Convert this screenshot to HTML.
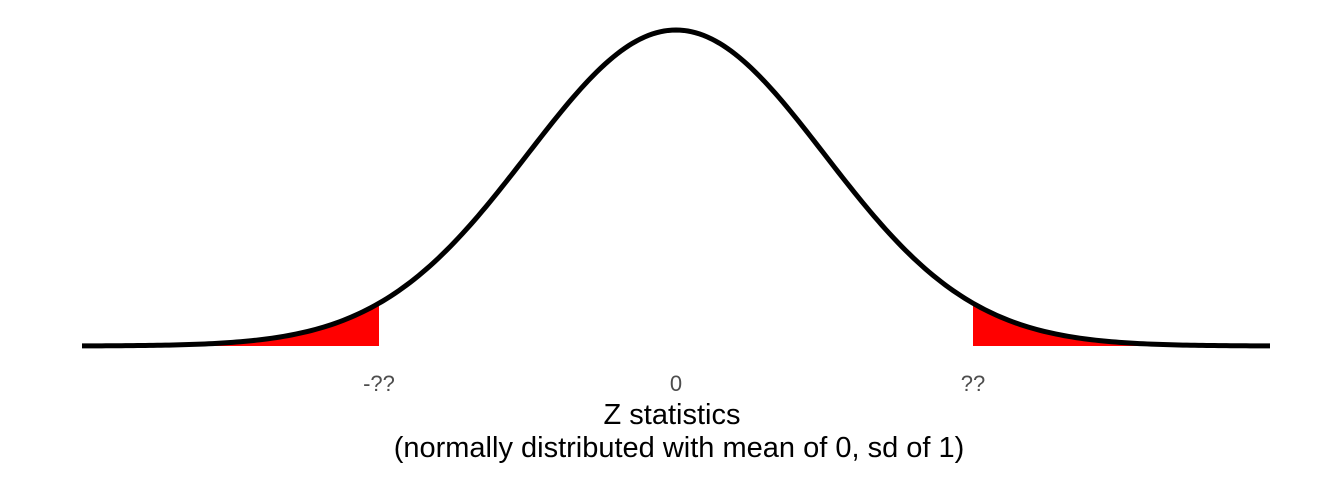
<!DOCTYPE html>
<html><head><meta charset="utf-8"><style>
body{margin:0;background:#fff;}
svg text{font-family:"Liberation Sans",Arial,sans-serif;}
</style></head><body>
<svg id="chart" width="1344" height="480" viewBox="0 0 1344 480">
<g id="marks"></g>
<g id="ticks"></g>
<text x="672" y="424" font-size="29" text-anchor="middle" fill="#000">Z statistics</text>
<text x="679" y="457" font-size="29" text-anchor="middle" fill="#000">(normally distributed with mean of 0, sd of 1)</text>
</svg>
<script>
const xDomain = [-4, 4];
const meanSd = [0, 1];
const criticalValues = [-2, 2];
const tickValues = [-2, 0, 2];
const tickLabels = ["-??", "0", "??"];

const X0 = 82, X1 = 1270, BASE = 346, PEAK = 30;
const sx = v => X0 + (v - xDomain[0]) / (xDomain[1] - xDomain[0]) * (X1 - X0);
const dn = v => Math.exp(-0.5 * ((v - meanSd[0]) / meanSd[1]) ** 2) / (meanSd[1] * Math.sqrt(2 * Math.PI));
const dmax = dn(meanSd[0]);
const sy = d => BASE - d / dmax * (BASE - PEAK);
const NS = "http://www.w3.org/2000/svg";
const marks = document.getElementById('marks');

function pathFor(a, b, closed) {
  let s = "";
  const n = 300;
  for (let i = 0; i <= n; i++) {
    const v = a + (b - a) * i / n;
    s += (i ? "L" : "M") + sx(v).toFixed(2) + "," + sy(dn(v)).toFixed(2);
  }
  if (closed) s += "L" + sx(b) + "," + BASE + "L" + sx(a) + "," + BASE + "Z";
  return s;
}
const lt = document.createElementNS(NS, 'path');
lt.setAttribute('d', pathFor(xDomain[0], criticalValues[0], true));
lt.setAttribute('fill', '#ff0000');


marks.appendChild(lt);
const rt = document.createElementNS(NS, 'path');
rt.setAttribute('d', pathFor(criticalValues[1], xDomain[1], true));
rt.setAttribute('fill', '#ff0000');


marks.appendChild(rt);
const curve = document.createElementNS(NS, 'path');
curve.setAttribute('d', pathFor(xDomain[0], xDomain[1], false));
curve.setAttribute('fill', 'none');
curve.setAttribute('stroke', '#000');
curve.setAttribute('stroke-width', '5');


marks.appendChild(curve);

const ticks = document.getElementById('ticks');
tickValues.forEach((v, i) => {
  const t = document.createElementNS(NS, 'text');
  t.setAttribute('x', sx(v));
  t.setAttribute('y', 391);
  t.setAttribute('font-size', '22');
  t.setAttribute('fill', '#4d4d4d');
  t.setAttribute('text-anchor', 'middle');
  
  
  t.textContent = tickLabels[i];
  ticks.appendChild(t);
});
</script>
</body></html>
